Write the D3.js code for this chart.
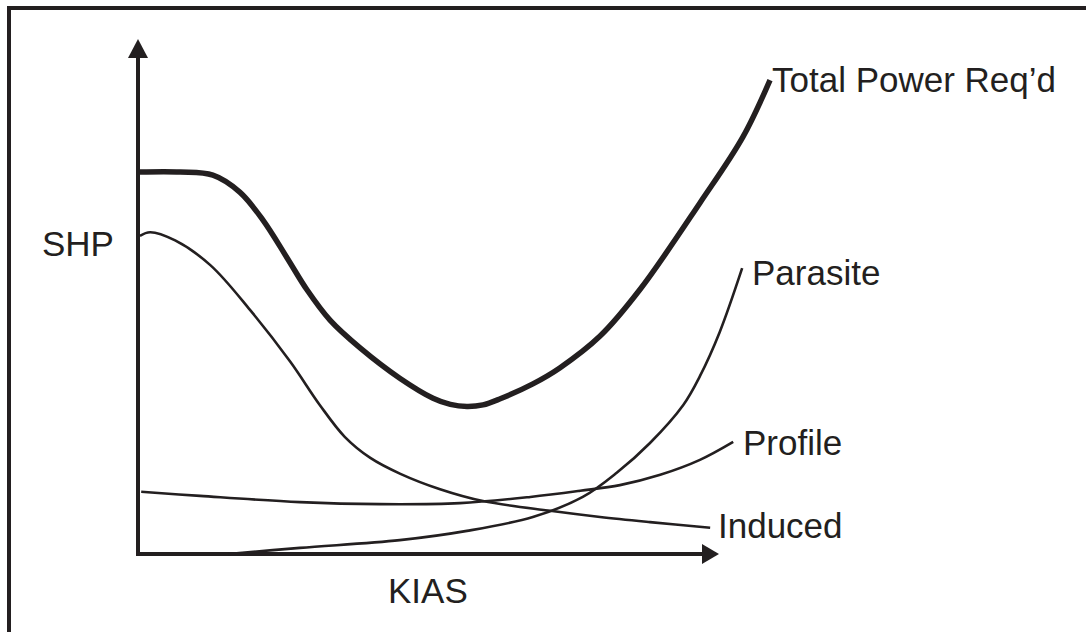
<!DOCTYPE html>
<html>
<head>
<meta charset="utf-8">
<script src="https://cdn.jsdelivr.net/npm/d3@7"></script>
<style>
  html, body { margin: 0; padding: 0; background: #fff; }
  svg { display: block; }
  text { font-family: "Liberation Sans", Arial, Helvetica, sans-serif; fill: #231f20; }
</style>
</head>
<body>
<svg id="chart" width="1086" height="632"></svg>
<script>
// Power required vs. airspeed (qualitative, arbitrary units 0–100)
const totalPower = [[0.3,74.3],[6.6,74.3],[11.7,73.7],[15.9,70.4],[19.5,65.0],[23.3,57.6],[26.4,51.4],[30.0,45.5],[34.7,40.1],[40.9,34.2],[46.1,30.3],[48.8,29.1],[51.4,28.7],[53.9,29.0],[56.6,30.2],[61.7,33.1],[65.9,36.2],[72.2,42.4],[78.4,51.4],[87.8,68.3],[94.5,81.1],[98.75,92.2]];
const induced = [[0.3,61.9],[1.9,62.6],[5.8,61.0],[11.3,56.2],[17.5,47.5],[23.8,37.4],[28.4,29.0],[32.3,22.8],[36.3,18.7],[41.0,15.6],[47.2,12.6],[53.9,10.3],[64.4,8.4],[72.2,7.2],[80.0,6.2],[89.4,5.1]];
const profile = [[0.5,12.1],[9.7,11.3],[25.3,10.1],[37.8,9.7],[50.3,9.9],[61.3,11.1],[69.1,12.3],[75.3,13.4],[81.6,15.4],[87.8,18.3],[93.0,21.8]];
const parasite = [[14.1,0],[25.3,1.2],[40.9,2.7],[51.4,4.5],[61.7,7.2],[69.5,11.1],[74.8,15.8],[80.0,21.6],[85.2,29.0],[87.8,34.6],[90.9,43.2],[94.4,55.6]];

const seriesNames = ["Total Power Req\u2019d", "Parasite", "Profile", "Induced"];
const axisTitles = { x: "KIAS", y: "SHP" };

const ink = "#231f20";
const svg = d3.select("#chart");

const x = d3.scaleLinear().domain([0, 100]).range([138, 778]);
const y = d3.scaleLinear().domain([0, 100]).range([554, 40]);

// frame (top and left edges)
svg.append("path")
  .attr("d", "M9,640 L9,8 L1100,8")
  .attr("fill", "none").attr("stroke", ink).attr("stroke-width", 4);

// axes with arrowheads
const x0 = x(0), y0 = y(0);
svg.append("line").attr("x1", x0).attr("y1", y0 + 2).attr("x2", x0).attr("y2", 56)
  .attr("stroke", ink).attr("stroke-width", 4);
svg.append("line").attr("x1", x0 - 2).attr("y1", y0).attr("x2", 704).attr("y2", y0)
  .attr("stroke", ink).attr("stroke-width", 4);
svg.append("path").attr("d", `M${x0},39 L${x0 + 10},58 L${x0 - 10},58 Z`).attr("fill", ink);
svg.append("path").attr("d", `M719,${y0} L702,${y0 - 10} L702,${y0 + 10} Z`).attr("fill", ink);

const line = d3.line().x(d => x(d[0])).y(d => y(d[1])).curve(d3.curveCatmullRom.alpha(0.5));

const curves = [
  { data: totalPower, w: 5.5 },
  { data: parasite, w: 2.6 },
  { data: profile, w: 2.6 },
  { data: induced, w: 2.6 }
];
svg.selectAll("path.curve").data(curves).join("path")
  .attr("class", "curve")
  .attr("d", d => line(d.data))
  .attr("fill", "none")
  .attr("stroke", ink)
  .attr("stroke-width", d => d.w);

// curve labels
const labelPos = [[772, 92], [752, 285], [743, 455], [718, 538]];
svg.selectAll("text.series").data(seriesNames).join("text")
  .attr("class", "series")
  .attr("x", (d, i) => labelPos[i][0])
  .attr("y", (d, i) => labelPos[i][1])
  .attr("font-size", 35)
  .text(d => d);

svg.append("text").attr("x", 388).attr("y", 603).attr("font-size", 35).text(axisTitles.x);
svg.append("text").attr("x", 42).attr("y", 256).attr("font-size", 35).text(axisTitles.y);
</script>
</body>
</html>
